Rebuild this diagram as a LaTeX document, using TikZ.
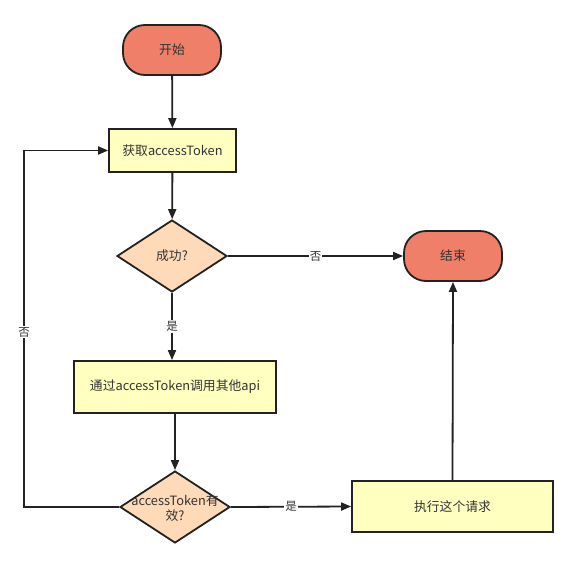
\documentclass[tikz,border=0pt]{standalone}
\usepackage{fontspec}
\setmainfont{Noto Sans CJK SC}
\usetikzlibrary{shapes.geometric,arrows.meta}
\definecolor{term}{HTML}{F07F6A}
\definecolor{proc}{HTML}{FFFFC0}
\definecolor{deci}{HTML}{FFDAB9}
\definecolor{edge}{HTML}{222222}
\definecolor{txtc}{HTML}{333333}
\tikzset{
  base/.style={draw=edge, line width=1.8pt, text=txtc, font=\fontsize{12.8}{15}\selectfont, inner sep=0pt},
  termbox/.style={base, fill=term, rounded corners=22pt, minimum width=98pt, minimum height=50pt},
  procbox/.style={base, fill=proc, rectangle},
  diabox/.style={base, fill=deci, diamond, minimum width=110pt, minimum height=72pt},
  diatext/.style={text=txtc, font=\fontsize{12.8}{15}\selectfont, align=center, inner sep=0pt},
  conn/.style={draw=edge, line width=1.8pt, -{Triangle[length=10pt,width=8pt]}},
  lbl/.style={fill=white, text=txtc, font=\fontsize{11.5}{13}\selectfont, inner sep=1pt}
}
\begin{document}
\begin{tikzpicture}[x=1pt,y=-1pt]
\useasboundingbox[fill=white] (0,0) rectangle (578,568);
\node[termbox] (s) at (172,50) {开始};
\node[procbox, minimum width=127pt, minimum height=43pt] (g1) at (172.5,150.5) {获取accessToken};
\node[diabox] (d1) at (172,256) {};
\node[diatext] (d1t) at (d1) {成功?};
\node[termbox] (e) at (453,256) {结束};
\node[procbox, minimum width=202pt, minimum height=52pt] (b2) at (175,387) {通过accessToken调用其他api};
\node[diabox] (d2) at (175,507) {};
\node[diatext] (d2t) at (175,508) {accessToken有\\效?};
\node[procbox, minimum width=201pt, minimum height=51pt] (b3) at (452.5,506.5) {执行这个请求};
\coordinate (lc) at (24,507);

\draw[conn] (s) -- (g1);
\draw[conn] (g1) -- (d1);
\draw[conn] (d1.east) -- node[lbl]{否} (e.west);
\draw[conn] (d1.south) -- node[lbl]{是} (d1.south |- b2.north);
\draw[conn] (b2.south) -- (d2.north);
\draw[conn] (d2.east) -- node[lbl]{是} (b3.west);
\draw[conn] (b3.north) -- (e.south);
\draw[conn] (d2.west) -- (lc) -- node[lbl, pos=0.49]{否} (lc |- g1.west) -- (g1.west);
\end{tikzpicture}
\end{document}
